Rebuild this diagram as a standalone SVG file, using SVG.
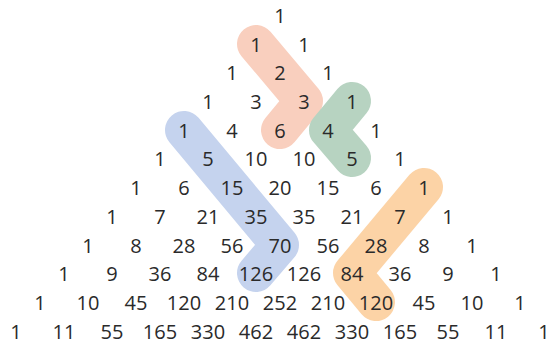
<svg xmlns="http://www.w3.org/2000/svg" width="553" height="343" viewBox="0 0 553 343">
<style>
.hl{fill:none;stroke-width:38;stroke-linecap:round;stroke-linejoin:round}
text{font-family:"Open Sans","Liberation Sans",sans-serif;font-size:20px;fill:#2a2a2a;text-anchor:middle;dominant-baseline:central}
</style>
<rect width="553" height="343" fill="#fff"/>
<g id="highlights">
<polyline class="hl" stroke="#f9cfbe" points="256,44 304,101 280,130"/>
<polyline class="hl" stroke="#b7d3c1" points="352,101 328,130 352,158"/>
<polyline class="hl" stroke="#c5d3ee" points="184,130 280,245 256,273"/>
<polyline class="hl" stroke="#fcd3a6" points="424,187 352,273 376,302"/>
</g>
<g id="row0"><text x="280" y="15">1</text></g>
<g id="row1"><text x="256" y="44">1</text><text x="304" y="44">1</text></g>
<g id="row2"><text x="232" y="72">1</text><text x="280" y="72">2</text><text x="328" y="72">1</text></g>
<g id="row3"><text x="208" y="101">1</text><text x="256" y="101">3</text><text x="304" y="101">3</text><text x="352" y="101">1</text></g>
<g id="row4"><text x="184" y="130">1</text><text x="232" y="130">4</text><text x="280" y="130">6</text><text x="328" y="130">4</text><text x="376" y="130">1</text></g>
<g id="row5"><text x="160" y="158">1</text><text x="208" y="158">5</text><text x="256" y="158">10</text><text x="304" y="158">10</text><text x="352" y="158">5</text><text x="400" y="158">1</text></g>
<g id="row6"><text x="136" y="187">1</text><text x="184" y="187">6</text><text x="232" y="187">15</text><text x="280" y="187">20</text><text x="328" y="187">15</text><text x="376" y="187">6</text><text x="424" y="187">1</text></g>
<g id="row7"><text x="112" y="216">1</text><text x="160" y="216">7</text><text x="208" y="216">21</text><text x="256" y="216">35</text><text x="304" y="216">35</text><text x="352" y="216">21</text><text x="400" y="216">7</text><text x="448" y="216">1</text></g>
<g id="row8"><text x="88" y="245">1</text><text x="136" y="245">8</text><text x="184" y="245">28</text><text x="232" y="245">56</text><text x="280" y="245">70</text><text x="328" y="245">56</text><text x="376" y="245">28</text><text x="424" y="245">8</text><text x="472" y="245">1</text></g>
<g id="row9"><text x="64" y="273">1</text><text x="112" y="273">9</text><text x="160" y="273">36</text><text x="208" y="273">84</text><text x="256" y="273">126</text><text x="304" y="273">126</text><text x="352" y="273">84</text><text x="400" y="273">36</text><text x="448" y="273">9</text><text x="496" y="273">1</text></g>
<g id="row10"><text x="40" y="302">1</text><text x="88" y="302">10</text><text x="136" y="302">45</text><text x="184" y="302">120</text><text x="232" y="302">210</text><text x="280" y="302">252</text><text x="328" y="302">210</text><text x="376" y="302">120</text><text x="424" y="302">45</text><text x="472" y="302">10</text><text x="520" y="302">1</text></g>
<g id="row11"><text x="16" y="331">1</text><text x="64" y="331">11</text><text x="112" y="331">55</text><text x="160" y="331">165</text><text x="208" y="331">330</text><text x="256" y="331">462</text><text x="304" y="331">462</text><text x="352" y="331">330</text><text x="400" y="331">165</text><text x="448" y="331">55</text><text x="496" y="331">11</text><text x="544" y="331">1</text></g>
</svg>
